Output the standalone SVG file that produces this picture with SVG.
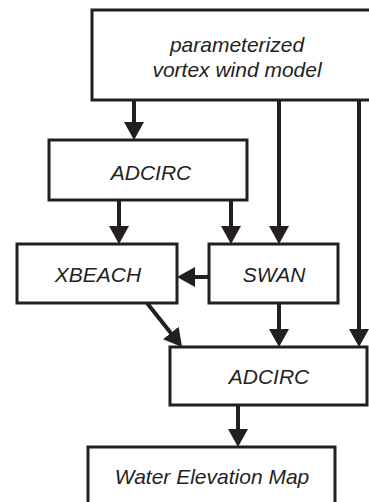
<svg xmlns="http://www.w3.org/2000/svg" width="369" height="502" viewBox="0 0 369 502">
<style>
.box{fill:#fff;stroke:#231f20;stroke-width:3}
.lbl{font-family:"Liberation Sans",Arial,sans-serif;font-style:italic;font-size:21px;fill:#231f20;text-anchor:middle}
.edge{stroke:#231f20;stroke-width:4;fill:none;marker-end:url(#ah)}
</style>
<defs>
<marker id="ah" markerUnits="userSpaceOnUse" markerWidth="20" markerHeight="20" refX="8" refY="10" orient="auto">
<path d="M0,0 L18,10 L0,20 z" fill="#231f20"/>
</marker>
</defs>
<rect width="369" height="502" fill="#fff"/>
<g id="edges">
<line class="edge" x1="134" y1="100" x2="134" y2="130"/>
<line class="edge" x1="279" y1="100" x2="279" y2="234"/>
<line class="edge" x1="359" y1="100" x2="359" y2="337"/>
<line class="edge" x1="119" y1="200" x2="119" y2="234"/>
<line class="edge" x1="231" y1="200" x2="231" y2="234"/>
<line class="edge" x1="209" y1="277" x2="187" y2="277"/>
<line class="edge" x1="147" y1="303" x2="175.8" y2="339.2"/>
<line class="edge" x1="279" y1="303" x2="279" y2="337"/>
<line class="edge" x1="238" y1="405" x2="238" y2="437"/>
</g>
<g id="wind">
<rect class="box" x="92" y="10" width="300" height="90"/>
<text class="lbl" x="237" y="52">parameterized</text>
<text class="lbl" x="237" y="77">vortex wind model</text>
</g>
<g id="adcirc1">
<rect class="box" x="49" y="140" width="198" height="60"/>
<text class="lbl" x="151" y="180">ADCIRC</text>
</g>
<g id="xbeach">
<rect class="box" x="17" y="244" width="160" height="59"/>
<text class="lbl" x="98" y="282">XBEACH</text>
</g>
<g id="swan">
<rect class="box" x="209" y="244" width="129" height="59"/>
<text class="lbl" x="274" y="282">SWAN</text>
</g>
<g id="adcirc2">
<rect class="box" x="170" y="347" width="197" height="58"/>
<text class="lbl" x="269" y="384">ADCIRC</text>
</g>
<g id="water">
<rect class="box" x="88" y="447" width="247" height="70"/>
<text class="lbl" x="212" y="484">Water Elevation Map</text>
</g>
</svg>
